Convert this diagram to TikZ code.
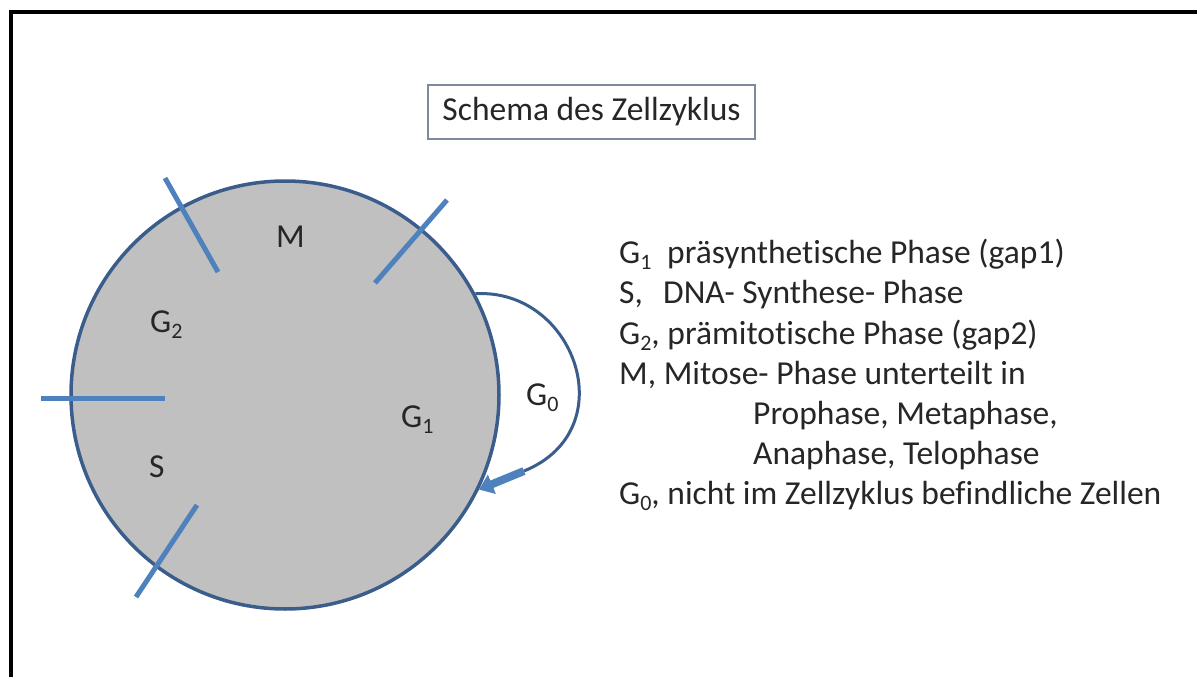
\documentclass[tikz,border=0pt]{standalone}
\usepackage{fontspec}
\setmainfont{Carlito}[RawFeature={-liga;-clig;-calt;-dlig}]
\usetikzlibrary{arrows.meta}
\definecolor{cellfill}{RGB}{192,192,192}
\definecolor{cellline}{RGB}{58,93,140}
\definecolor{tickblue}{RGB}{79,129,189}
\definecolor{boxline}{RGB}{125,138,158}
\newcommand{\lowidx}[1]{\raisebox{-6pt}{\fontsize{22}{22}\selectfont #1}}
\tikzset{
  lbl/.style={inner sep=0pt, anchor=base west, font=\fontsize{33.5}{40}\selectfont, text=black!85},
  tickline/.style={draw=tickblue, line width=5pt},
}
\begin{document}
\begin{tikzpicture}[x=1pt,y=-1pt]
\useasboundingbox (0,0) rectangle (1197,677);
\clip (0,0) rectangle (1197,677);
% frame
\draw[line width=4pt] (11,700) -- (11,12) -- (1220,12);
% title
\node[draw=boxline, line width=1.5pt, minimum width=327pt, minimum height=54pt, inner sep=0pt,
      font=\fontsize{33.5}{40}\selectfont, text=black!85] (title) at (591.5,112) {Schema des Zellzyklus};
% cell
\node[circle, draw=cellline, fill=cellfill, line width=3.5pt, minimum size=428pt, inner sep=0pt] (cell) at (285,395) {};
% ticks
\coordinate (t1a) at (165,178); \coordinate (t1b) at (218,272);
\coordinate (t2a) at (447,200); \coordinate (t2b) at (375,283);
\coordinate (t3a) at (41,398);  \coordinate (t3b) at (165,398);
\coordinate (t4a) at (197,505); \coordinate (t4b) at (136,597);
\draw[tickline] (t1a) -- (t1b);
\draw[tickline] (t2a) -- (t2b);
\draw[tickline] (t3a) -- (t3b);
\draw[tickline] (t4a) -- (t4b);
% phase labels
\node[lbl] (lM)  at (276,247) {M};
\node[lbl] (lG2) at (150,332) {G\lowidx{2}};
\node[lbl] (lS)  at (149,477) {S};
\node[lbl] (lG1) at (401,427) {G\lowidx{1}};
\node[lbl] (lG0) at (526,405) {G\lowidx{0}};
% G0 loop
\coordinate (g0end) at (524,471);
\draw[draw=cellline, line width=3pt] (cell.28) .. controls (575,288) and (625,430) .. (g0end);
\draw[draw=tickblue, line width=8pt, -{Triangle[length=14pt,width=20pt]}] (g0end) -- (cell.-26);
% legend
\node[lbl] (r1) at (619,263) {\makebox[48pt][l]{G\lowidx{1}}präsynthetische Phase (gap1)};
\node[lbl] (r2) at (619,303.5) {\makebox[44pt][l]{S,}DNA- Synthese- Phase};
\node[lbl] (r3) at (619,344) {G\lowidx{2}, prämitotische Phase (gap2)};
\node[lbl] (r4) at (619,384) {M, Mitose- Phase unterteilt in};
\node[lbl] (r5) at (753,424) {Prophase, Metaphase,};
\node[lbl] (r6) at (753,464) {Anaphase, Telophase};
\node[lbl] (r7) at (619,504) {G\lowidx{0}, nicht im Zellzyklus befindliche Zellen};
\end{tikzpicture}
\end{document}
